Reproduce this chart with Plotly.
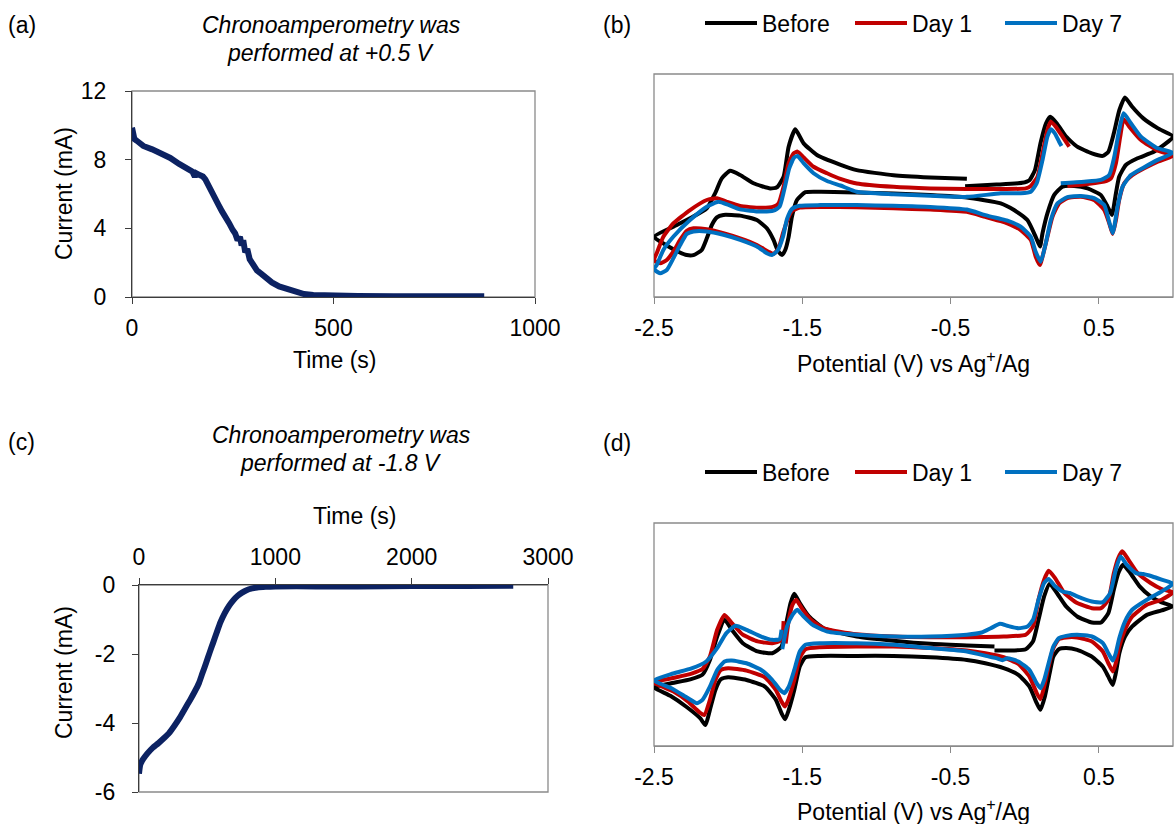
import plotly.graph_objects as go

W, H = 1175, 824
FONT = "Liberation Sans, Arial, sans-serif"
FS = 23
AX = "#3c3c3c"
FRAME = "#8a8a8a"

# ---------------- data ----------------
# (a) chronoamperometry at +0.5 V
ca_a_time = [0, 2, 6, 12, 28, 50, 73, 95, 117, 135,
             150, 156, 160, 168, 176, 182, 188, 196, 205, 214,
             223, 232, 241, 250, 256, 262, 268, 272, 276, 281,
             286, 292, 300, 310, 321, 335, 347, 365, 383, 405,
             427, 450, 471, 515, 560, 650, 737, 810, 874]
ca_a_current = [9.86, 9.4, 9.2, 9.1, 8.8, 8.6, 8.35, 8.1, 7.75, 7.5,
                7.3, 7.0, 7.2, 7.1, 7.02, 6.85, 6.55, 6.2, 5.8, 5.4,
                5.0, 4.7, 4.3, 3.9, 3.7, 3.3, 3.5, 3.0, 3.3, 2.6,
                2.8, 2.2, 1.85, 1.55, 1.35, 1.05, 0.85, 0.62, 0.47, 0.28,
                0.17, 0.12, 0.1, 0.08, 0.06, 0.05, 0.04, 0.04, 0.04]

# (c) chronoamperometry at -1.8 V
ca_c_time = [0, 10, 30, 62, 100, 141, 180, 219, 260, 297, 335, 375, 410, 440, 465, 492, 518, 544, 570, 596,
             628, 661, 692, 724, 756, 789, 830, 867, 930, 1000, 1300, 1600, 2000, 2400, 2745]
ca_c_current = [-5.47, -5.2, -5.05, -4.88, -4.72, -4.59, -4.45, -4.3, -4.08, -3.86, -3.6, -3.33, -3.08, -2.84, -2.56,
                -2.26, -1.96, -1.67, -1.38, -1.09, -0.82, -0.60, -0.44, -0.31, -0.22, -0.15, -0.1, -0.07, -0.05, -0.04,
                -0.04, -0.04, -0.03, -0.03, -0.02]

series_names = ["Before", "Day 1", "Day 7"]
series_colors = ["#000000", "#C00000", "#0070C0"]

# (b) cyclic voltammograms (potential V, relative current, arbitrary units)
cv_b_before = [(-0.402, 49.7), (-0.191, 50.4), (-0.018, 51.2), (0.032, 52.4), (0.069, 56.9), (0.106, 68.9),
               (0.143, 77.8), (0.173, 80.8), (0.217, 77.8), (0.279, 71.9), (0.354, 67.4), (0.453, 64.4), (0.527, 63.3),
               (0.564, 65.1), (0.601, 73.4), (0.638, 83.8), (0.676, 89.5), (0.725, 85.3), (0.8, 80.1), (0.899, 75.6),
               (1.0, 71.9), (0.874, 65.2), (0.761, 62.2), (0.682, 59.2), (0.637, 53.9), (0.615, 46.5), (0.588, 36.8),
               (0.559, 40.5), (0.514, 45.7), (0.424, 48.7), (0.333, 49.8), (0.255, 49.5), (0.198, 45.7), (0.153, 37.5),
               (0.120, 28.6), (0.103, 22.6), (0.074, 27.0), (0.018, 34.5), (-0.072, 39.0), (-0.162, 42.0),
               (-0.39, 44.6), (-0.637, 45.7), (-0.885, 46.4), (-1.133, 46.9), (-1.380, 47.2), (-1.479, 47.0),
               (-1.536, 43.5), (-1.570, 36.0), (-1.592, 27.0), (-1.615, 21.1), (-1.637, 18.8), (-1.667, 21.1),
               (-1.694, 25.6), (-1.739, 30.8), (-1.806, 34.5), (-1.919, 36.5), (-2.032, 36.8), (-2.076, 35.7),
               (-2.110, 32.3), (-2.144, 26.3), (-2.178, 21.1), (-2.234, 18.8), (-2.279, 18.8), (-2.336, 20.3),
               (-2.414, 23.1), (-2.5, 27.0), (-2.370, 31.5), (-2.257, 35.3), (-2.144, 39.8), (-2.088, 46.5),
               (-2.043, 53.2), (-1.986, 56.6), (-1.919, 54.7), (-1.829, 51.0), (-1.716, 48.7), (-1.671, 49.2),
               (-1.626, 53.9), (-1.592, 67.4), (-1.547, 75.2), (-1.491, 68.9), (-1.401, 63.7), (-1.25, 59.5),
               (-1.133, 56.9), (-0.885, 54.6), (-0.637, 53.6), (-0.390, 53.0)]
cv_b_day1 = [(0.288, 49.8), (0.424, 50.7), (0.536, 51.7), (0.581, 53.2), (0.615, 60.0), (0.644, 71.9), (0.667, 79.7),
             (0.705, 76.4), (0.784, 70.4), (0.897, 65.6), (1.0, 63.4), (0.897, 60.7), (0.806, 57.7), (0.728, 54.7),
             (0.671, 51.0), (0.637, 43.5), (0.615, 34.5), (0.593, 28.3), (0.570, 33.0), (0.536, 39.0), (0.468, 43.5),
             (0.378, 45.0), (0.288, 44.3), (0.232, 42.0), (0.187, 36.0), (0.153, 27.0), (0.120, 18.1), (0.103, 14.3),
             (0.074, 18.1), (0.041, 25.6), (-0.027, 30.0), (-0.117, 33.0), (-0.162, 34.0), (-0.266, 35.9),
             (-0.390, 38.2), (-0.637, 39.2), (-0.885, 39.8), (-1.133, 40.3), (-1.380, 40.4), (-1.517, 40.1),
             (-1.570, 38.5), (-1.603, 34.0), (-1.630, 28.6), (-1.660, 21.8), (-1.694, 19.3), (-1.728, 20.3),
             (-1.806, 23.3), (-1.919, 26.3), (-2.032, 28.6), (-2.144, 30.4), (-2.234, 30.8), (-2.279, 29.7),
             (-2.324, 25.6), (-2.370, 20.3), (-2.414, 16.6), (-2.459, 15.1), (-2.5, 16.5), (-2.482, 19.6),
             (-2.437, 27.0), (-2.370, 33.0), (-2.257, 39.0), (-2.144, 43.5), (-2.076, 44.3), (-2.009, 42.7),
             (-1.919, 40.8), (-1.784, 40.0), (-1.694, 40.5), (-1.660, 42.0), (-1.626, 49.5), (-1.592, 60.0),
             (-1.559, 64.4), (-1.532, 65.2), (-1.491, 62.6), (-1.424, 58.4), (-1.333, 55.5), (-1.243, 53.0),
             (-1.133, 50.9), (-0.885, 49.4), (-0.637, 48.7), (-0.390, 48.4), (-0.142, 48.4), (0.007, 48.7),
             (0.041, 49.8), (0.086, 53.9), (0.120, 64.4), (0.153, 74.9), (0.176, 78.6), (0.209, 76.4), (0.255, 71.9),
             (0.300, 67.4)]
cv_b_day7 = [(0.243, 51.0), (0.401, 51.7), (0.514, 52.5), (0.570, 54.7), (0.604, 62.9), (0.637, 74.9), (0.667, 82.4),
             (0.716, 77.9), (0.784, 71.9), (0.897, 66.7), (1.0, 64.7), (0.897, 61.5), (0.806, 58.2), (0.716, 54.7),
             (0.660, 49.5), (0.626, 40.5), (0.604, 31.5), (0.593, 28.6), (0.570, 33.6), (0.536, 41.3), (0.468, 44.3),
             (0.378, 45.3), (0.288, 44.8), (0.221, 42.0), (0.176, 34.5), (0.142, 24.1), (0.108, 15.8), (0.074, 20.3),
             (0.041, 27.0), (-0.027, 31.5), (-0.117, 34.2), (-0.162, 35.0), (-0.266, 36.7), (-0.390, 39.2),
             (-0.637, 40.4), (-0.885, 40.9), (-1.133, 41.2), (-1.380, 41.2), (-1.517, 40.9), (-1.570, 39.5),
             (-1.603, 35.0), (-1.630, 27.1), (-1.667, 20.8), (-1.705, 18.8), (-1.739, 19.6), (-1.806, 22.6),
             (-1.919, 25.6), (-2.032, 27.9), (-2.144, 29.4), (-2.234, 29.4), (-2.279, 28.3), (-2.324, 23.3),
             (-2.370, 17.3), (-2.414, 12.1), (-2.459, 10.6), (-2.5, 12.5), (-2.482, 14.3), (-2.437, 21.1),
             (-2.370, 27.0), (-2.257, 34.5), (-2.144, 40.5), (-2.065, 42.7), (-1.998, 41.3), (-1.919, 39.3),
             (-1.784, 38.3), (-1.694, 38.7), (-1.653, 40.5), (-1.622, 48.0), (-1.588, 57.7), (-1.554, 62.6),
             (-1.532, 63.2), (-1.491, 60.0), (-1.424, 55.5), (-1.333, 52.0), (-1.243, 50.0), (-1.133, 47.2),
             (-0.885, 46.1), (-0.637, 45.4), (-0.390, 44.9), (-0.162, 46.5), (-0.027, 46.5), (0.041, 47.2),
             (0.081, 51.0), (0.120, 61.4), (0.153, 71.9), (0.176, 75.2), (0.203, 73.4), (0.232, 69.6), (0.248, 67.7)]

# (d) cyclic voltammograms
cv_d_before = [(-0.204, 42.8), (0.007, 43.4), (0.056, 46.9), (0.093, 56.6), (0.131, 67.1), (0.168, 72.8),
               (0.217, 68.6), (0.279, 62.6), (0.354, 58.1), (0.453, 55.4), (0.515, 55.4), (0.564, 59.6), (0.601, 70.1),
               (0.631, 77.5), (0.663, 81.3), (0.713, 77.5), (0.775, 71.6), (0.849, 67.1), (0.923, 64.4), (1.0, 62.6),
               (0.923, 60.8), (0.824, 58.8), (0.725, 53.6), (0.676, 49.1), (0.638, 41.6), (0.614, 32.6), (0.594, 27.4),
               (0.564, 31.1), (0.527, 35.6), (0.453, 40.1), (0.354, 43.1), (0.279, 43.9), (0.230, 43.4), (0.193, 40.1),
               (0.168, 32.6), (0.136, 22.2), (0.106, 16.2), (0.081, 19.2), (0.032, 26.6), (-0.043, 31.9),
               (-0.142, 34.9), (-0.266, 37.1), (-0.390, 38.6), (-0.637, 39.8), (-0.885, 40.4), (-1.133, 40.4),
               (-1.380, 40.4), (-1.479, 39.8), (-1.517, 35.6), (-1.554, 25.1), (-1.591, 16.2), (-1.616, 12.0),
               (-1.640, 14.7), (-1.678, 20.7), (-1.752, 26.6), (-1.876, 29.6), (-2.0, 30.8), (-2.049, 29.9),
               (-2.086, 25.1), (-2.123, 16.2), (-2.153, 9.4), (-2.189, 12.5), (-2.28, 17.5), (-2.39, 22.5),
               (-2.5, 26.3), (-2.39, 28.0), (-2.25, 30.0), (-2.173, 32.0), (-2.123, 38.6), (-2.074, 49.1),
               (-2.024, 56.6), (-1.975, 52.1), (-1.901, 46.1), (-1.801, 42.4), (-1.702, 41.6), (-1.640, 44.6),
               (-1.603, 56.6), (-1.579, 64.1), (-1.554, 68.3), (-1.517, 64.1), (-1.455, 58.1), (-1.356, 52.8),
               (-1.133, 49.1), (-0.885, 47.2), (-0.637, 45.8), (-0.390, 45.1), (-0.204, 44.6)]
cv_d_day1 = [(-1.612, 46.0), (-1.590, 57.0), (-1.565, 63.5), (-1.541, 65.6), (-1.504, 61.8), (-1.442, 56.6),
             (-1.356, 52.8), (-1.133, 50.1), (-0.885, 49.1), (-0.637, 48.8), (-0.390, 48.8), (-0.142, 49.1),
             (0.007, 49.9), (0.056, 53.6), (0.093, 65.6), (0.131, 74.6), (0.161, 78.6), (0.205, 75.3), (0.267, 68.6),
             (0.354, 64.1), (0.453, 61.8), (0.515, 61.8), (0.564, 65.6), (0.601, 77.5), (0.631, 84.3), (0.658, 87.3),
             (0.700, 83.5), (0.762, 77.5), (0.849, 73.1), (0.923, 70.4), (1.0, 68.9), (0.923, 65.6), (0.824, 63.3),
             (0.725, 58.1), (0.676, 52.1), (0.638, 44.6), (0.614, 37.1), (0.594, 33.4), (0.564, 37.1), (0.527, 42.4),
             (0.453, 46.9), (0.354, 48.7), (0.279, 48.7), (0.230, 47.9), (0.193, 43.9), (0.161, 35.6), (0.131, 26.6),
             (0.106, 21.0), (0.081, 23.7), (0.032, 31.1), (-0.043, 36.8), (-0.142, 39.8), (-0.266, 41.6),
             (-0.390, 42.8), (-0.637, 43.9), (-0.885, 44.6), (-1.133, 44.6), (-1.380, 44.3), (-1.479, 43.4),
             (-1.517, 39.4), (-1.554, 29.6), (-1.591, 21.4), (-1.616, 17.7), (-1.640, 19.9), (-1.678, 25.1),
             (-1.752, 30.8), (-1.876, 33.8), (-2.0, 34.9), (-2.049, 34.1), (-2.086, 29.6), (-2.123, 20.7),
             (-2.161, 13.9), (-2.198, 15.4), (-2.272, 20.0), (-2.371, 24.5), (-2.5, 28.5), (-2.371, 30.5),
             (-2.247, 32.5), (-2.173, 34.5), (-2.123, 40.1), (-2.074, 52.1), (-2.024, 58.8), (-1.975, 55.1),
             (-1.901, 49.9), (-1.801, 46.9), (-1.702, 46.1), (-1.640, 47.5), (-1.626, 56.0)]
cv_d_day7 = [(-1.635, 43.4), (-1.603, 53.6), (-1.566, 58.8), (-1.534, 61.1), (-1.492, 58.1), (-1.430, 54.3),
             (-1.331, 51.3), (-1.133, 49.9), (-0.885, 49.1), (-0.637, 49.1), (-0.390, 49.9), (-0.290, 50.9),
             (-0.229, 52.8), (-0.167, 54.8), (-0.117, 53.9), (-0.043, 52.8), (0.019, 53.6), (0.056, 56.6),
             (0.093, 65.6), (0.131, 73.1), (0.161, 74.9), (0.205, 71.6), (0.254, 69.3), (0.304, 68.6), (0.354, 67.1),
             (0.453, 64.8), (0.527, 64.5), (0.576, 68.6), (0.614, 79.0), (0.646, 85.0), (0.688, 81.3), (0.750, 77.5),
             (0.799, 77.1), (0.861, 76.0), (0.923, 74.6), (1.0, 72.8), (0.923, 69.3), (0.824, 65.6), (0.725, 61.1),
             (0.676, 55.8), (0.638, 48.4), (0.614, 41.6), (0.594, 38.3), (0.564, 41.6), (0.527, 46.1), (0.453, 49.1),
             (0.354, 49.9), (0.279, 49.4), (0.230, 48.4), (0.193, 44.6), (0.161, 37.1), (0.131, 29.6), (0.106, 25.9),
             (0.081, 28.1), (0.032, 34.1), (-0.043, 37.9), (-0.117, 39.4), (-0.150, 38.5), (-0.191, 39.4),
             (-0.241, 40.1), (-0.390, 42.4), (-0.637, 43.9), (-0.885, 45.4), (-1.133, 46.1), (-1.380, 46.1),
             (-1.479, 45.4), (-1.517, 42.4), (-1.554, 34.1), (-1.591, 26.6), (-1.621, 23.7), (-1.653, 25.4),
             (-1.702, 29.6), (-1.777, 34.1), (-1.876, 37.1), (-1.975, 38.3), (-2.024, 37.9), (-2.074, 34.1),
             (-2.123, 26.6), (-2.173, 20.7), (-2.210, 19.2), (-2.272, 21.5), (-2.371, 25.5), (-2.5, 29.5),
             (-2.371, 32.5), (-2.247, 34.8), (-2.148, 37.9), (-2.074, 43.9), (-2.012, 50.6), (-1.950, 53.9),
             (-1.876, 52.1), (-1.777, 49.1), (-1.702, 47.6), (-1.653, 47.9), (-1.640, 52.1)]

time_ticks_a = [0, 500, 1000]
current_ticks_a = [0, 4, 8, 12]
time_ticks_c = [0, 1000, 2000, 3000]
current_ticks_c = [-6, -4, -2, 0]
potential_ticks = [-2.5, -1.5, -0.5, 0.5]


def lab(v):
    return ("%g" % v).replace("\u2212", "-")


def px(x):
    return x / W


def py(y):
    return 1 - y / H


fig = go.Figure()

NAVY = "#0c2262"
fig.add_trace(go.Scatter(x=ca_a_time, y=ca_a_current, mode="lines", xaxis="x", yaxis="y",
                         line=dict(color=NAVY, width=6), showlegend=False))
fig.add_trace(go.Scatter(x=ca_c_time, y=ca_c_current, mode="lines", xaxis="x3", yaxis="y3",
                         line=dict(color=NAVY, width=6, shape="spline", smoothing=0.6), showlegend=False))

for name, color, pts in zip(series_names, series_colors, [cv_b_before, cv_b_day1, cv_b_day7]):
    fig.add_trace(go.Scatter(x=[p[0] for p in pts], y=[p[1] for p in pts], mode="lines", name=name,
                             xaxis="x2", yaxis="y2", legend="legend",
                             line=dict(color=color, width=4, shape="spline", smoothing=0.5)))
for name, color, pts in zip(series_names, series_colors, [cv_d_before, cv_d_day1, cv_d_day7]):
    fig.add_trace(go.Scatter(x=[p[0] for p in pts], y=[p[1] for p in pts], mode="lines", name=name,
                             xaxis="x4", yaxis="y4", legend="legend2",
                             line=dict(color=color, width=4, shape="spline", smoothing=0.5)))

common = dict(showgrid=False, zeroline=False, showline=True, linecolor=AX, linewidth=1.3,
              ticks="outside", ticklen=6, tickcolor=AX, tickwidth=1.3, automargin=False,
              tickfont=dict(size=FS, color="#000000", family=FONT))
cv_x = dict(common, linecolor=FRAME, tickcolor=FRAME, range=[-2.5, 1.0], tickvals=potential_ticks,
            ticktext=[lab(v) for v in potential_ticks], ticklabelstandoff=4)
cv_y = dict(showgrid=False, zeroline=False, showline=False, showticklabels=False, ticks="", range=[0, 100],
            automargin=False)

legend_common = dict(orientation="h", x=px(700), xanchor="left", yanchor="middle",
                     font=dict(size=FS, family=FONT, color="#000000"), itemwidth=52, entrywidth=83,
                     entrywidthmode="pixels", bgcolor="rgba(0,0,0,0)", borderwidth=0)

fig.update_layout(
    width=W, height=H, margin=dict(l=0, r=0, t=0, b=0, pad=0, autoexpand=False),
    autosize=False,
    paper_bgcolor="white", plot_bgcolor="white",
    font=dict(family=FONT, size=FS, color="#000000"),
    xaxis=dict(common, domain=[px(132), px(535)], range=[0, 1000], tickvals=time_ticks_a,
               ticktext=[lab(v) for v in time_ticks_a], anchor="y", ticklabelstandoff=4),
    yaxis=dict(common, domain=[py(297), py(91)], range=[0, 12], tickvals=current_ticks_a,
               ticktext=[lab(v) for v in current_ticks_a], anchor="x", ticklabelstandoff=14),
    xaxis2=dict(cv_x, domain=[px(654), px(1173)], anchor="y2"),
    yaxis2=dict(cv_y, domain=[py(297), py(74)], anchor="x2"),
    xaxis3=dict(common, domain=[px(139), px(548)], range=[0, 3000], tickvals=time_ticks_c,
                ticktext=[lab(v) for v in time_ticks_c], side="top", anchor="y3", ticklabelstandoff=4),
    yaxis3=dict(common, domain=[py(792), py(585)], range=[-6, 0], tickvals=current_ticks_c,
                ticktext=[lab(v) for v in current_ticks_c], anchor="x3", ticklabelstandoff=12),
    xaxis4=dict(cv_x, domain=[px(654), px(1173)], anchor="y4"),
    yaxis4=dict(cv_y, domain=[py(746), py(523)], anchor="x4"),
    legend=dict(legend_common, y=py(23)),
    legend2=dict(legend_common, y=py(472)),
)

# plot-area borders (gray frames)
for xr, yr in [("x", "y"), ("x2", "y2"), ("x3", "y3"), ("x4", "y4")]:
    fig.add_shape(type="rect", xref=xr + " domain", yref=yr + " domain", x0=0, x1=1, y0=0, y1=1,
                  line=dict(color=FRAME, width=1.3), layer="below")


def note(text, x, y, angle=0, italic=False):
    fig.add_annotation(text=("<i>%s</i>" % text) if italic else text, x=px(x), y=py(y),
                       xref="paper", yref="paper", xanchor="center", yanchor="middle",
                       showarrow=False, textangle=angle, font=dict(size=FS, family=FONT, color="#000000"))


note("(a)", 22, 25)
note("(b)", 617, 25)
note("(c)", 21, 442)
note("(d)", 617, 443)
note("Chronoamperometry was", 331, 25, italic=True)
note("performed at +0.5 V", 331, 53, italic=True)
note("Chronoamperometry was", 341, 435, italic=True)
note("performed at -1.8 V", 341, 463, italic=True)
note("Time (s)", 334, 360)
note("Current (mA)", 64, 194, angle=-90)
note("Potential (V) vs Ag<sup>+</sup>/Ag", 913, 362)
note("Time (s)", 354, 516)
note("Current (mA)", 64, 673, angle=-90)
note("Potential (V) vs Ag<sup>+</sup>/Ag", 913, 810)

fig.write_html("out.html")
